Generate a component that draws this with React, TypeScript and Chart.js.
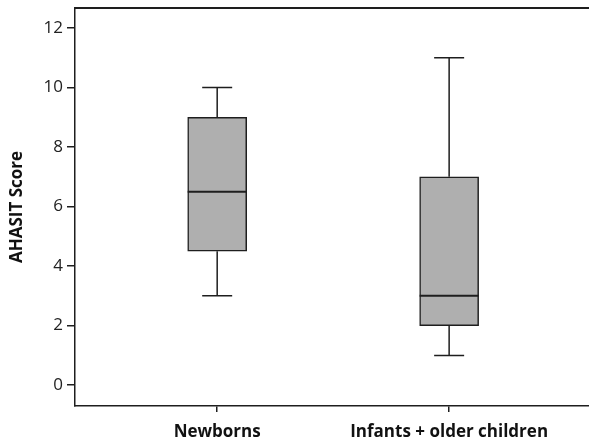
import React, { useEffect, useRef } from "react";
import { Chart, registerables } from "chart.js";

Chart.register(...registerables);

const categories = ["Newborns", "Infants + older children"];
const categoryPositions = [1, 2];
const whiskerMin = [3, 1];
const q1 = [4.5, 2];
const medians = [6.5, 3];
const q3 = [9, 7];
const whiskerMax = [10, 11];
const yTicks = [0, 2, 4, 6, 8, 10, 12];

const FONT = "'Open Sans', 'Noto Sans', sans-serif";
const DARK = "#1e1e1e";

const boxPlugin = {
  id: "boxExtras",
  afterDatasetsDraw(chart: any) {
    const ctx = chart.ctx;
    const xs = chart.scales.x;
    const ys = chart.scales.y;
    ctx.save();
    ctx.strokeStyle = DARK;
    categoryPositions.forEach((pos, i) => {
      const cx = xs.getPixelForValue(pos);
      const capHalf = 15;
      const boxHalf = 29.5;
      ctx.lineWidth = 1.5;
      ctx.beginPath();
      ctx.moveTo(cx, ys.getPixelForValue(q3[i]));
      ctx.lineTo(cx, ys.getPixelForValue(whiskerMax[i]));
      ctx.moveTo(cx - capHalf, ys.getPixelForValue(whiskerMax[i]));
      ctx.lineTo(cx + capHalf, ys.getPixelForValue(whiskerMax[i]));
      ctx.moveTo(cx, ys.getPixelForValue(q1[i]));
      ctx.lineTo(cx, ys.getPixelForValue(whiskerMin[i]));
      ctx.moveTo(cx - capHalf, ys.getPixelForValue(whiskerMin[i]));
      ctx.lineTo(cx + capHalf, ys.getPixelForValue(whiskerMin[i]));
      ctx.stroke();
      ctx.lineWidth = 2;
      ctx.beginPath();
      ctx.moveTo(cx - boxHalf, ys.getPixelForValue(medians[i]));
      ctx.lineTo(cx + boxHalf, ys.getPixelForValue(medians[i]));
      ctx.stroke();
    });
    const a = chart.chartArea;
    ctx.lineWidth = 2;
    ctx.beginPath();
    ctx.moveTo(a.left, a.top);
    ctx.lineTo(chart.width, a.top);
    ctx.stroke();
    ctx.restore();
  },
};

export default function App() {
  const ref = useRef<HTMLCanvasElement | null>(null);
  useEffect(() => {
    if (!ref.current) return;
    const chart = new Chart(ref.current, {
      type: "bar",
      data: {
        datasets: [
          {
            data: categoryPositions.map((p, i) => ({ x: p, y: [q1[i], q3[i]] })) as any,
            backgroundColor: "#afafaf",
            borderColor: DARK,
            borderWidth: 1.5,
            borderSkipped: false,
            barThickness: 59,
          },
        ],
      },
      options: {
        animation: false,
        responsive: false,
        maintainAspectRatio: false,
        layout: { padding: { top: 8, right: 0, left: 0, bottom: 0 } },
        plugins: { legend: { display: false }, tooltip: { enabled: false } },
        scales: {
          x: {
            type: "linear",
            offset: false,
            min: 0.387,
            max: 2.603,
            afterBuildTicks: (s: any) => {
              s.ticks = categoryPositions.map((v) => ({ value: v }));
            },
            afterFit: (s: any) => {
              s.height = 38;
              s.paddingLeft = 0;
              s.paddingRight = 0;
            },
            ticks: {
              autoSkip: false,
              maxRotation: 0,
              padding: 10,
              color: "#111",
              font: { family: FONT, size: 17, weight: "bold" },
              callback: (v: any) => {
                const idx = categoryPositions.indexOf(Number(v));
                return idx >= 0 ? categories[idx] : "";
              },
            },
            grid: { offset: false, drawOnChartArea: false, tickLength: 6, color: DARK, lineWidth: 1.5 },
            border: { display: true, color: DARK, width: 1.5 },
          },
          y: {
            type: "linear",
            min: -0.7,
            max: 12.67,
            afterBuildTicks: (s: any) => {
              s.ticks = yTicks.map((v) => ({ value: v }));
            },
            afterFit: (s: any) => {
              s.width = 75;
              s.paddingTop = 0;
              s.paddingBottom = 0;
            },
            ticks: {
              padding: 4,
              color: "#222",
              font: { family: FONT, size: 17 },
            },
            grid: { drawOnChartArea: false, tickLength: 8, color: DARK, lineWidth: 1.5 },
            border: { display: true, color: DARK, width: 1.5 },
            title: {
              display: true,
              text: "AHASIT Score",
              color: "#111",
              padding: { top: 7, bottom: 0 },
              font: { family: FONT, size: 17, weight: "bold" },
            },
          },
        },
      },
      plugins: [boxPlugin],
    });
    return () => chart.destroy();
  }, []);
  return (
    <div style={{ position: "fixed", left: 0, top: 0, width: 589, height: 444, background: "#fff" }}>
      <canvas ref={ref} width={589} height={444} style={{ display: "block" }} />
    </div>
  );
}
